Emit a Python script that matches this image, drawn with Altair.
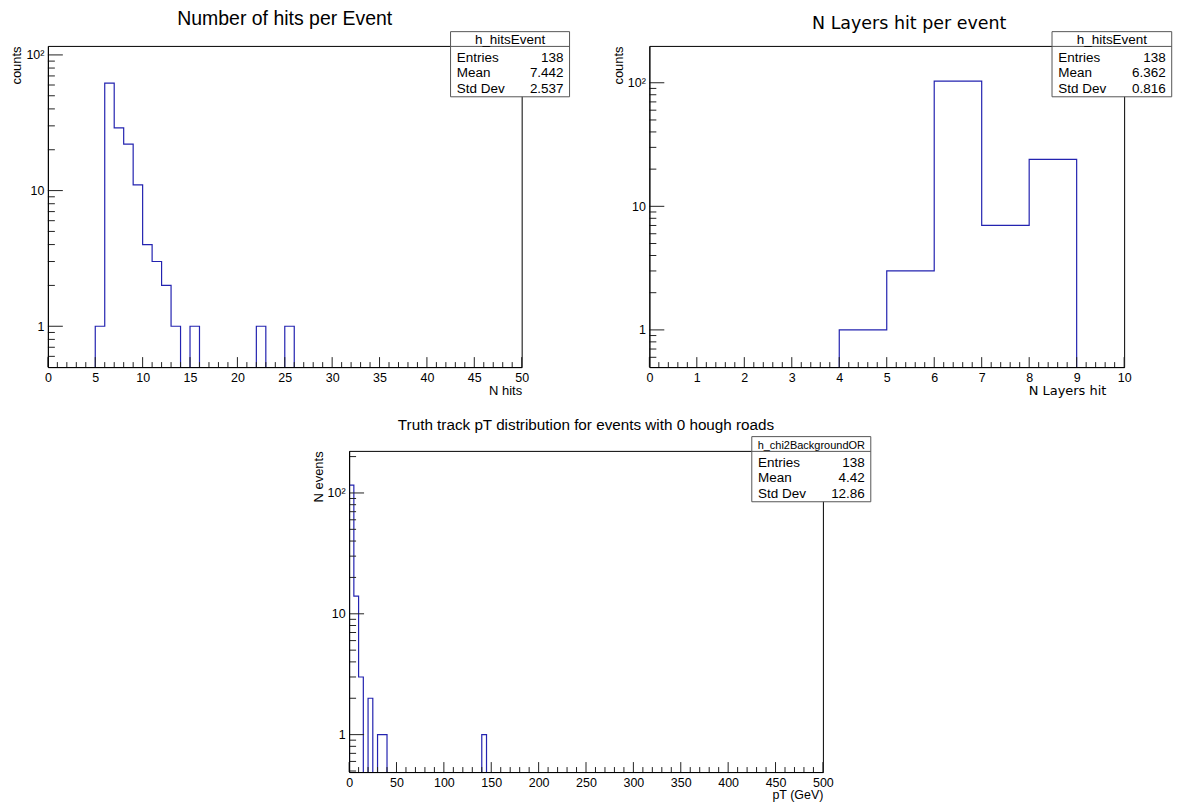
import altair as alt
import pandas as pd

FONT = "Liberation Sans"
FONT2 = "DejaVu Sans"
LINE = "#2323b0"

# ---- data (bin lower edges of non-empty bins and their counts) ----
hits_range = [0, 50]
hits_width = 1
hits_bins = [5, 6, 7, 8, 9, 10, 11, 12, 13, 15, 22, 25]
hits_counts = [1, 62, 29, 22, 11, 4, 3, 2, 1, 1, 1, 1]
hits_stats = ["138", "7.442", "2.537"]

layers_range = [0, 10]
layers_width = 1
layers_bins = [4, 5, 6, 7, 8]
layers_counts = [1, 3, 103, 7, 24]
layers_stats = ["138", "6.362", "0.816"]

pt_range = [0, 500]
pt_width = 5
pt_bins = [0, 5, 10, 20, 30, 35, 140]
pt_counts = [116, 14, 3, 2, 1, 1, 1]
pt_stats = ["138", "4.42", "12.86"]

stat_names = ["Entries", "Mean", "Std Dev"]


def step_table(rng, width, bins, counts, floor):
    # empty bins are drawn below the visible range (clipped away, like ROOT)
    lo, hi = rng
    n = int(round((hi - lo) / width))
    full = [0] * n
    for b, c in zip(bins, counts):
        full[int(round((b - lo) / width))] = c
    xs, ys = [lo], [floor]
    for i, c in enumerate(full):
        xs.append(lo + i * width)
        ys.append(c if c > 0 else floor)
    xs.append(hi)
    ys.append(full[-1] if full[-1] > 0 else floor)
    xs.append(hi)
    ys.append(floor)
    return pd.DataFrame({"x": xs, "y": ys, "i": list(range(len(xs)))})


ONE = pd.DataFrame({"a": [0]})


def panel(title, tfont, tsize, tx, ty, xtitle, xfont, xsize, xtitle_x,
          ytitle, rng, width, bins, counts, ydom, major_x, minor_x,
          hname, hsize, stats, W, H):
    xs = alt.Scale(domain=rng, nice=False, zero=False)
    ys = alt.Scale(type="log", domain=ydom, nice=False)
    df = step_table(rng, width, bins, counts, ydom[0] * 0.5)

    hist = alt.Chart(df).mark_line(
        interpolate="step-after", color=LINE, strokeWidth=1.2, clip=True
    ).encode(
        x=alt.X("x:Q", scale=xs, axis=alt.Axis(
            values=major_x, format="d", ticks=False, tickSize=0, grid=False,
            domain=True, domainColor="black", zindex=1,
            labelFont=FONT, labelFontSize=12.5, labelColor="black",
            labelPadding=4, labelFlush=False, labelOverlap=False,
            title=xtitle, titleFont=xfont, titleFontSize=xsize,
            titleFontWeight="normal", titleColor="black",
            titleX=xtitle_x, titleY=27, titleAlign="right",
            titleBaseline="alphabetic")),
        y=alt.Y("y:Q", scale=ys, axis=alt.Axis(
            values=[1, 10, 100], ticks=False, tickSize=0, grid=False,
            labelExpr="datum.value == 100 ? '10²' : datum.label",
            domain=True, domainColor="black", zindex=1,
            labelFont=FONT, labelFontSize=12.5, labelColor="black",
            labelPadding=4, labelOverlap=False, labelFlush=False,
            title=ytitle, titleFont=FONT, titleFontSize=13,
            titleFontWeight="normal", titleColor="black",
            titleAngle=270, titleX=-27, titleY=0, titleAlign="right",
            titleBaseline="alphabetic")),
        order="i:Q",
    )

    ymaj = pd.DataFrame({"v": [v for v in [1, 10, 100] if ydom[0] < v < ydom[1]]})
    ymin_vals = []
    for d in [0.1, 1, 10, 100]:
        for m in range(2, 10):
            v = round(m * d, 6)
            if ydom[0] < v < ydom[1]:
                ymin_vals.append(v)
    ymin = pd.DataFrame({"v": ymin_vals})
    xmaj = pd.DataFrame({"v": major_x})
    xmin = pd.DataFrame({"v": minor_x})

    tick_col = "#222222"
    t1 = alt.Chart(ymaj).mark_rule(color=tick_col, strokeWidth=1).encode(
        y=alt.Y("v:Q", scale=ys), x=alt.value(0), x2=alt.value(15))
    t2 = alt.Chart(ymin).mark_rule(color=tick_col, strokeWidth=1).encode(
        y=alt.Y("v:Q", scale=ys), x=alt.value(0), x2=alt.value(7))
    t3 = alt.Chart(xmaj).mark_rule(color=tick_col, strokeWidth=1).encode(
        x=alt.X("v:Q", scale=xs), y=alt.value(H), y2=alt.value(H - 10))
    t4 = alt.Chart(xmin).mark_rule(color=tick_col, strokeWidth=1).encode(
        x=alt.X("v:Q", scale=xs), y=alt.value(H), y2=alt.value(H - 5))

    bx0, bx1 = 403.7, min(523.7, W + 48)
    box = alt.Chart(ONE).mark_rect(
        fill="white", stroke="#555555", strokeWidth=1, clip=False
    ).encode(x=alt.value(bx0), x2=alt.value(bx1), y=alt.value(-14.3), y2=alt.value(51))
    sep = alt.Chart(ONE).mark_rule(color="#555555", strokeWidth=1).encode(
        x=alt.value(bx0), x2=alt.value(bx1), y=alt.value(0.5))
    texts = [alt.Chart(ONE).mark_text(
        text=hname, font=FONT, fontSize=hsize, align="center",
        baseline="alphabetic", color="black"
    ).encode(x=alt.value((bx0 + bx1) / 2), y=alt.value(-2))]
    for k, (nm, val) in enumerate(zip(stat_names, stats)):
        yy = 16 + k * 15.6
        texts.append(alt.Chart(ONE).mark_text(
            text=nm, font=FONT, fontSize=13.5, align="left",
            baseline="alphabetic", color="black"
        ).encode(x=alt.value(410), y=alt.value(yy)))
        texts.append(alt.Chart(ONE).mark_text(
            text=val, font=FONT, fontSize=13.5, align="right",
            baseline="alphabetic", color="black"
        ).encode(x=alt.value(bx1 - 6), y=alt.value(yy)))

    ttl = alt.Chart(ONE).mark_text(
        text=title, font=tfont, fontSize=tsize, align="center",
        baseline="alphabetic", color="black"
    ).encode(x=alt.value(tx), y=alt.value(ty))

    return alt.layer(hist, t1, t2, t3, t4, box, sep, *texts, ttl).properties(
        width=W, height=H)


W, H = 475, 322

p1 = panel("Number of hits per Event", FONT, 19.5, W / 2, -21,
           "N hits", FONT, 13, W, "counts",
           hits_range, hits_width, hits_bins, hits_counts, [0.5, 116.5],
           list(range(0, 51, 5)), [v for v in range(0, 51) if v % 5],
           "h_hitsEvent", 13.5, hits_stats, W, H)

p2 = panel("N Layers hit per event", FONT2, 17.5, 260.5, -16.5,
           "N Layers hit", FONT2, 13, 457.7, "counts",
           layers_range, layers_width, layers_bins, layers_counts, [0.5, 198.7],
           list(range(0, 11)), [round(i * 0.2, 2) for i in range(0, 51) if i % 5],
           "h_hitsEvent", 13.5, layers_stats, 476, H)

p3 = panel("Truth track pT distribution for events with 0 hough roads", FONT, 15.3, W / 2, -21,
           "pT (GeV)", FONT, 12.5, W, "N events",
           pt_range, pt_width, pt_bins, pt_counts, [0.49, 223],
           list(range(0, 501, 50)), [v for v in range(0, 501, 10) if v % 50],
           "h_chi2BackgroundOR", 11, pt_stats, W, H)

spacer = alt.Chart(ONE).mark_rect(opacity=0).encode(
    x=alt.value(0), x2=alt.value(1), y=alt.value(0), y2=alt.value(1)
).properties(width=1, height=10, view=alt.ViewBackground(stroke="transparent"))

top = alt.hconcat(p1, p2, spacing=41)
bottom = alt.hconcat(spacer, p3, spacing=262)
chart = alt.vconcat(top, bottom, spacing=19).properties(
    padding={"left": 10, "top": 7, "right": 5, "bottom": 5},
    background="white",
).configure_view(stroke="black", strokeWidth=1)

chart.save("out.html", embed_options={"renderer": "svg", "actions": False})
